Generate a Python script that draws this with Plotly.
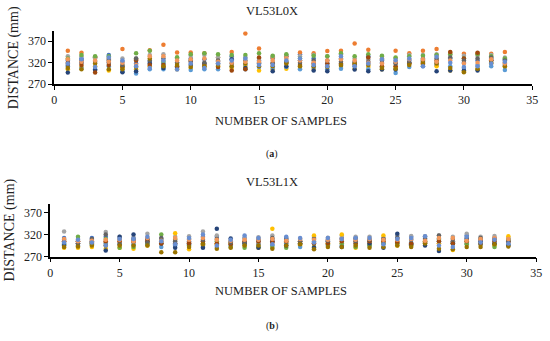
import plotly.graph_objects as go

samples = list(range(1, 34))

# ---- VL53L0X (a) ----
blue_a = [325,330,333,338,322,318,322,318,320,330,328,322,335,315,325,330,335,340,330,318,330,322,335,320,320,325,330,315,330,320,325,330,328]
orange_a = [348,343,333,330,352,328,349,362,344,344,342,332,345,388,353,333,335,344,342,347,348,365,350,330,348,342,348,352,343,341,342,341,345]
gray_a = [335,335,330,328,330,330,338,340,330,336,338,333,330,333,330,335,338,335,338,335,340,330,328,335,330,338,338,340,338,336,336,338,332]
yellow_a = [305,310,312,302,308,305,312,310,305,308,310,312,308,310,302,305,306,308,306,312,310,306,310,305,310,318,316,312,302,300,305,318,310]
lightblue_a = [312,308,305,312,300,295,305,305,308,303,305,305,312,305,310,308,310,305,310,305,306,312,305,310,296,310,312,320,312,308,315,312,303]
green_a = [330,338,335,335,312,342,348,322,333,340,342,340,338,338,342,336,340,330,336,335,342,335,340,336,332,335,336,338,340,330,340,335,330]
darkblue_a = [297,320,303,320,298,300,318,308,310,315,318,318,328,308,318,300,312,325,302,300,315,304,300,304,304,320,322,300,302,302,302,325,315]
brown_a = [320,315,297,315,310,325,315,315,312,322,315,310,302,305,332,318,320,315,318,318,318,316,332,312,312,318,318,325,345,330,343,326,320]
dgray_a = [315,325,322,325,315,330,325,330,320,325,320,325,318,325,320,320,322,320,325,325,322,320,322,325,318,320,325,330,332,325,330,332,325]
dyellow_a = [308,305,318,305,305,310,330,312,315,310,312,315,312,318,312,312,318,312,312,310,315,318,315,308,306,315,320,318,308,298,306,320,312]
lorange_a = [328,322,325,322,320,315,335,335,325,328,330,322,320,322,322,325,330,325,320,325,328,325,320,318,322,328,328,322,325,318,320,328,318]
lblue2_a = [318,328,310,332,325,312,308,325,304,318,308,318,325,330,315,315,325,330,315,312,335,312,318,328,326,330,312,334,320,310,312,318,322]

# ---- VL53L1X (b) ----
blue_b = [312,305,312,315,310,312,305,310,300,305,315,315,305,312,305,310,312,305,312,308,312,312,305,310,312,315,312,310,305,318,310,312,310]
orange_b = [305,300,300,302,303,302,308,305,308,302,300,300,300,303,300,305,302,305,300,302,300,305,300,303,305,300,305,300,305,305,308,310,302]
gray_b = [327,310,308,326,315,312,322,310,315,316,327,318,305,312,314,318,308,310,315,313,318,315,315,313,318,317,316,318,315,322,315,317,312]
yellow_b = [290,290,292,288,290,288,295,300,323,287,295,298,300,295,290,333,300,295,318,300,320,290,298,318,295,295,300,300,285,300,298,295,316]
lightblue_b = [300,295,298,300,300,298,298,292,295,298,292,292,295,300,298,296,300,292,305,295,295,300,295,300,300,302,300,305,302,300,298,300,298]
green_b = [298,315,300,310,290,292,300,320,310,295,300,305,292,290,292,292,290,300,292,298,300,292,295,300,300,295,305,310,300,298,300,292,308]
darkblue_b = [295,300,305,284,315,320,310,300,290,300,290,333,311,300,290,305,295,300,290,305,292,310,300,290,322,298,295,283,300,310,305,300,295]
brown_b = [305,305,302,305,305,305,305,300,300,300,305,300,298,305,305,302,305,300,300,300,305,300,305,305,302,300,302,305,300,305,300,305,305]
dgray_b = [308,300,310,320,298,308,302,312,305,310,308,310,302,302,308,312,310,305,310,306,310,305,308,310,312,308,310,318,310,312,312,310,305]
dyellow_b = [292,293,295,295,295,295,295,280,280,292,298,288,290,295,295,288,295,298,287,292,292,295,290,292,295,292,300,288,287,292,292,298,293]
lorange_b = [310,305,306,308,308,305,312,306,312,308,312,308,306,308,308,310,306,310,308,308,310,308,310,308,308,310,306,312,312,306,310,312,310]
lblue2_b = [302,308,302,295,310,310,315,305,298,312,320,295,308,318,312,298,315,312,302,312,310,312,312,298,310,312,316,295,292,315,302,308,300]

series_a = [blue_a, orange_a, gray_a, yellow_a, lightblue_a, green_a, darkblue_a, brown_a, dgray_a, dyellow_a, lorange_a, lblue2_a]
series_b = [blue_b, orange_b, gray_b, yellow_b, lightblue_b, green_b, darkblue_b, brown_b, dgray_b, dyellow_b, lorange_b, lblue2_b]
colors = ["#4472C4", "#ED7D31", "#A5A5A5", "#FFC000", "#5B9BD5", "#70AD47",
          "#264478", "#9E480E", "#636363", "#997300", "#F1975A", "#698ED0"]

y_ticks = [270, 320, 370]
x_ticks = [0, 5, 10, 15, 20, 25, 30, 35]

FONT = "Liberation Serif"
fig = go.Figure()
for vals, c in zip(series_a, colors):
    fig.add_trace(go.Scatter(x=samples, y=vals, mode="markers", xaxis="x", yaxis="y",
                             marker=dict(color=c, size=4.5, symbol="circle"), showlegend=False))
for vals, c in zip(series_b, colors):
    fig.add_trace(go.Scatter(x=samples, y=vals, mode="markers", xaxis="x2", yaxis="y2",
                             marker=dict(color=c, size=4.5, symbol="circle"), showlegend=False))

W, H = 550, 341
def px(v): return v / W
def py(v): return 1 - v / H

axcommon = dict(showgrid=False, zeroline=False, showline=True, linecolor="#000", linewidth=1.5,
                ticks="outside", tickcolor="#000", ticklen=4, tickfont=dict(family=FONT, size=12, color="#222"))
ytitle = dict(text="DISTANCE (mm)", font=dict(family=FONT, size=14, color="#222"), standoff=6)

fig.update_layout(
    width=W, height=H, margin=dict(l=0, r=0, t=0, b=0),
    paper_bgcolor="white", plot_bgcolor="white",
    xaxis=dict(domain=[px(52), px(538)], range=[0, 35], tickvals=x_ticks, anchor="y", **axcommon),
    yaxis=dict(domain=[py(86), py(32)], range=[270, 393], tickvals=y_ticks, anchor="x", title=ytitle, **axcommon),
    xaxis2=dict(domain=[px(48), px(542)], range=[0, 35], tickvals=x_ticks, anchor="y2", **axcommon),
    yaxis2=dict(domain=[py(262), py(208)], range=[270, 390], tickvals=y_ticks, anchor="x2", title=ytitle, **axcommon),
)

def ann(text, x, y, size=12):
    fig.add_annotation(text=text, x=px(x), y=py(y), xref="paper", yref="paper", showarrow=False,
                       xanchor="center", yanchor="middle", font=dict(family=FONT, size=size, color="#222"))

ann("VL53L0X", 273, 11, 12.5)
ann("NUMBER OF SAMPLES", 283, 124, 12.5)
ann("(<b>a</b>)", 273, 157, 10)
ann("VL53L1X", 273, 186, 12.5)
ann("NUMBER OF SAMPLES", 283, 297, 12.5)
ann("(<b>b</b>)", 273, 333, 10)

fig.write_html("out.html", config={"displayModeBar": False},
               post_script="document.body.style.margin='0';document.body.style.overflow='hidden';")
